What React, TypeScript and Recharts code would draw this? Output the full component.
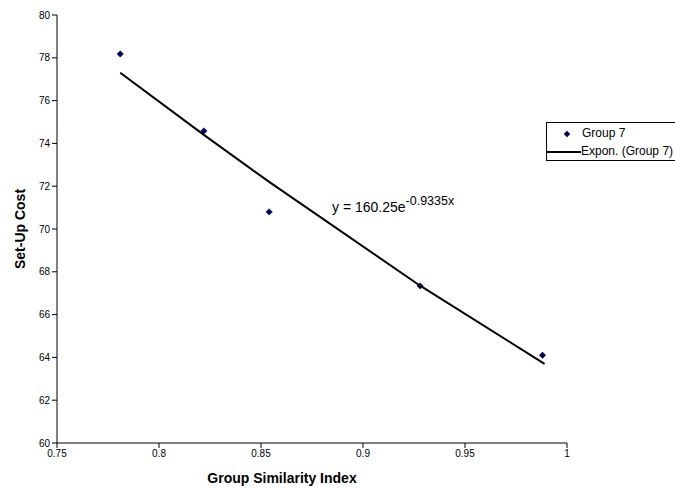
import React from 'react'
import {
  ScatterChart,
  Scatter,
  XAxis,
  YAxis,
  Legend,
} from 'recharts'

const similarity = [0.781, 0.822, 0.854, 0.928, 0.988]
const setupCost = [78.18, 74.58, 70.8, 67.34, 64.1]

// exponential trendline as drawn
const trendX = [0.781, 0.822, 0.854, 0.928, 0.989]
const trendY = [77.3, 74.4, 72.2, 67.35, 63.7]

const xTicks = [0.75, 0.8, 0.85, 0.9, 0.95, 1]
const yTicks = [60, 62, 64, 66, 68, 70, 72, 74, 76, 78, 80]

const seriesName = 'Group 7'
const trendName = 'Expon. (Group 7)'
const equation = 'y = 160.25e'
const equationExp = '-0.9335x'

const points = similarity.map((x, i) => ({ x, y: setupCost[i] }))
const trend = trendX.map((x, i) => ({ x, y: trendY[i] }))

const FONT = '"Liberation Sans", Arial, sans-serif'
const NAVY = '#00007a'

const Diamond = (props: any) => {
  const { cx, cy } = props
  if (cx == null || cy == null) return <g />
  const r = 3.2
  return (
    <polygon
      points={`${cx},${cy - r} ${cx + r},${cy} ${cx},${cy + r} ${cx - r},${cy}`}
      fill={NAVY}
      stroke="#000"
      strokeWidth={0.5}
    />
  )
}

const LegendBox = () => (
  <div
    style={{
      border: '1px solid #000',
      width: 160,
      height: 37,
      background: '#fff',
      fontFamily: FONT,
      fontSize: 12,
      color: '#000',
      position: 'relative',
    }}
  >
    <svg width={36} height={37} style={{ position: 'absolute', left: 0, top: 0 }}>
      <polygon points="20,8 23,11 20,14 17,11" fill={NAVY} stroke="#000" strokeWidth={0.5} />
      <line x1={0} y1={29} x2={34} y2={29} stroke="#000" strokeWidth={2} />
    </svg>
    <div style={{ position: 'absolute', left: 35, top: 3, whiteSpace: 'nowrap' }}>{seriesName}</div>
    <div style={{ position: 'absolute', left: 34, top: 21, whiteSpace: 'nowrap' }}>{trendName}</div>
  </div>
)

export default function App() {
  return (
    <div
      style={{
        position: 'absolute',
        left: 0,
        top: 0,
        width: 675,
        height: 489,
        overflow: 'hidden',
        background: '#fff',
        fontFamily: FONT,
      }}
    >
      <ScatterChart
        width={675}
        height={489}
        margin={{ top: 15, right: 108, bottom: 0, left: 0 }}
      >
        <XAxis
          type="number"
          dataKey="x"
          domain={[0.75, 1]}
          ticks={xTicks}
          allowDataOverflow
          height={46}
          stroke="#000"
          tickLine={{ stroke: '#000' }}
          tickSize={5}
          tick={{ fontSize: 10, fill: '#000', fontFamily: FONT }}
          label={{
            value: 'Group Similarity Index',
            position: 'center',
            dx: -30,
            dy: 12,
            style: { fontSize: 14, fontWeight: 'bold', fill: '#000', fontFamily: FONT },
          }}
        />
        <YAxis
          type="number"
          dataKey="y"
          domain={[60, 80]}
          ticks={yTicks}
          allowDataOverflow
          width={57}
          stroke="#000"
          tickLine={{ stroke: '#000' }}
          tickSize={5}
          tick={{ fontSize: 10, fill: '#000', fontFamily: FONT }}
          label={{
            value: 'Set-Up Cost',
            angle: -90,
            position: 'center',
            dx: -8.5,
            style: { fontSize: 14, fontWeight: 'bold', fill: '#000', fontFamily: FONT },
          }}
        />
        <Scatter
          name={seriesName}
          data={points}
          shape={Diamond}
          isAnimationActive={false}
        />
        <Scatter
          name={trendName}
          data={trend}
          line={{ stroke: '#000', strokeWidth: 2 }}
          lineType="joint"
          shape={() => <g />}
          isAnimationActive={false}
        />
        <Legend
          layout="vertical"
          align="center"
          verticalAlign="middle"
          wrapperStyle={{ left: 546, top: 122, width: 160, height: 39 }}
          content={() => <LegendBox />}
        />
      </ScatterChart>
      <div
        style={{
          position: 'absolute',
          left: 332,
          top: 195,
          fontSize: 14,
          color: '#000',
          whiteSpace: 'nowrap',
        }}
      >
        {equation}
        <sup style={{ fontSize: 12.5, position: 'relative', top: -1 }}>{equationExp}</sup>
      </div>
    </div>
  )
}
